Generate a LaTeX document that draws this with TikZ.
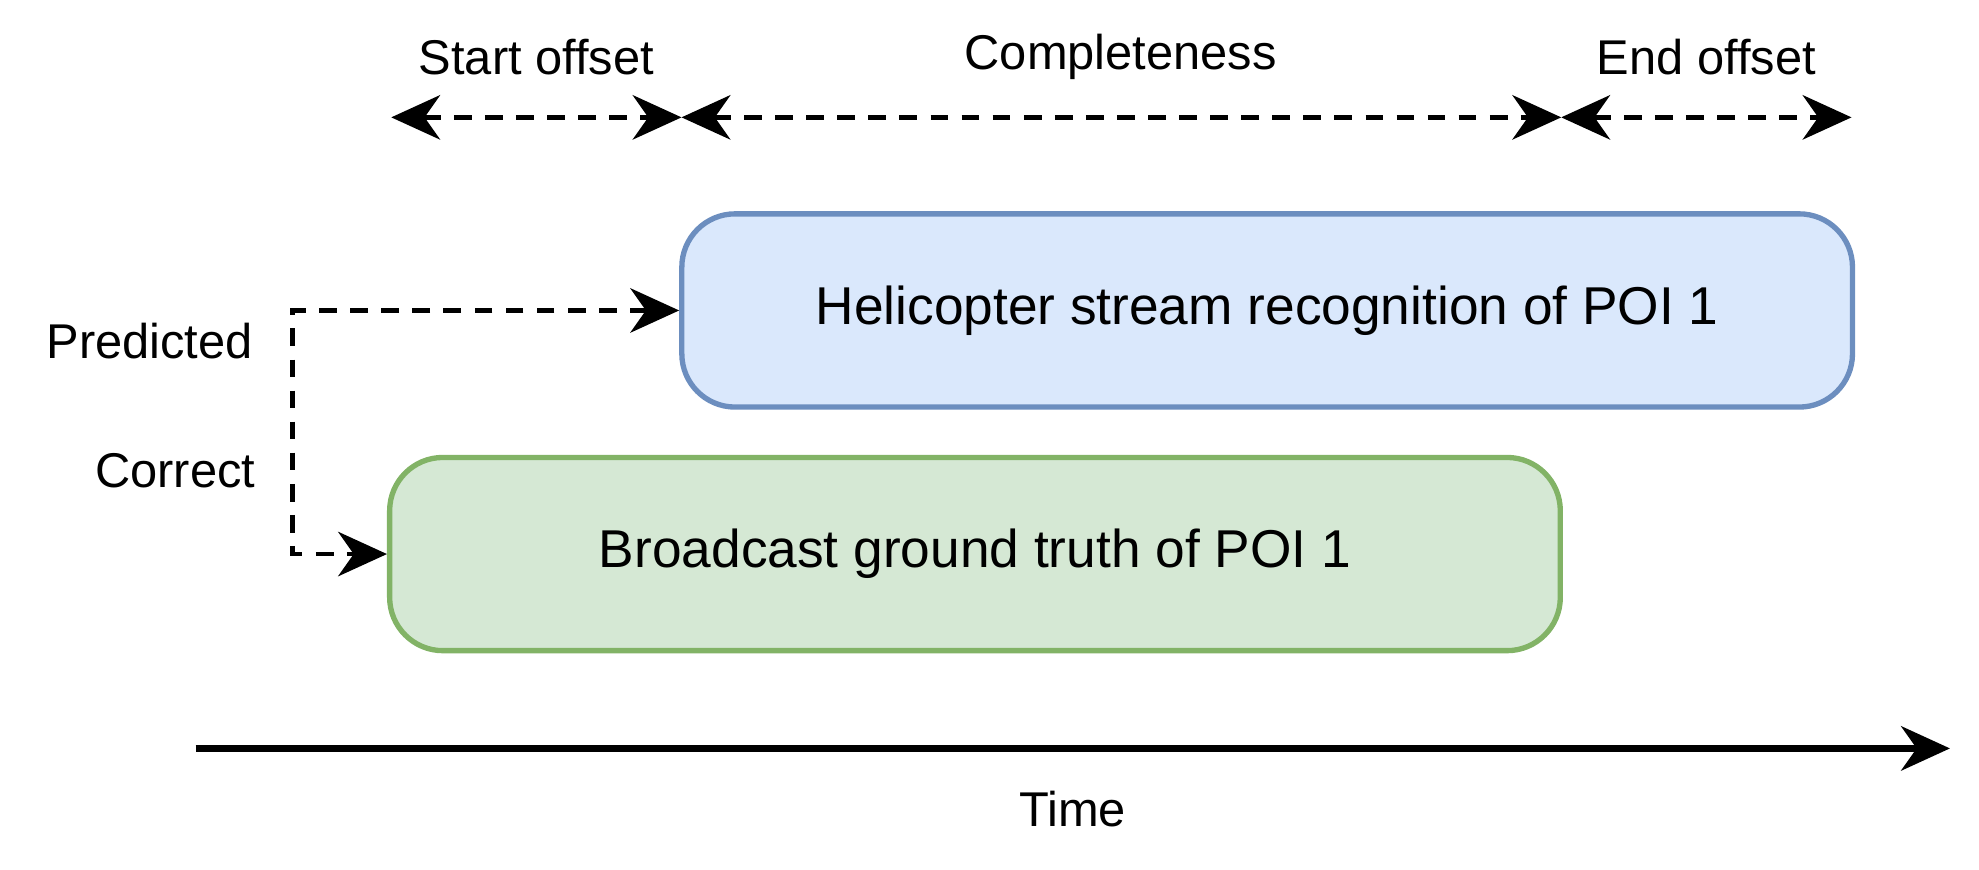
\documentclass[tikz,border=0pt]{standalone}
\usepackage{fontspec}
\setmainfont{Liberation Sans}
\usetikzlibrary{arrows.meta,positioning}
\definecolor{boxblue}{HTML}{DAE8FC}
\definecolor{lineblue}{HTML}{6C8EBF}
\definecolor{boxgreen}{HTML}{D5E8D4}
\definecolor{linegreen}{HTML}{82B366}
\tikzset{
    %Define standard arrow tip
    >={Stealth[length=11pt,width=10pt,inset=3.5pt]},
    %Define style for boxes
    box/.style={
           rectangle,
           rounded corners=12pt,
           line width=1.2pt,
           minimum width=9.27cm,
           minimum height=1.53cm,
           font=\fontsize{12}{14}\selectfont},
    % Define arrow styles
    span/.style={
           <->,
           dashed,
           line width=1.1pt,
           dash pattern=on 4pt off 3pt},
    label/.style={
           font=\fontsize{11}{13}\selectfont,
           inner sep=0pt}
}
\begin{document}
\begin{tikzpicture}[x=0.01cm,y=-0.01cm]
 \useasboundingbox (0,0) rectangle (1568,689);
 %nodes
    \node[box, fill=boxblue, draw=lineblue] (heli) at (1004,246) {Helicopter stream recognition of POI 1};
    \node[box, fill=boxgreen, draw=linegreen] (broad) at (772.5,439) {Broadcast ground truth of POI 1};
    \coordinate (s0) at (310,93);
    \coordinate (s1) at (540,93);
    \coordinate (s2) at (1237,93);
    \coordinate (s3) at (1467,93);
    \node[label] (start) at (425,45) {Start offset};
    \node[label] (compl) at (888,45) {Completeness};
    \node[label] (end) at (1352,45) {End offset};
    \node[label, anchor=east] (pred) at (201,270) {Predicted};
    \node[label, anchor=east] (corr) at (203,373) {Correct};
    \coordinate (bend) at (232,340);
    \coordinate (t0) at (155,593);
    \coordinate (t1) at (1545,593);
    \node[label] (time) at (850,641) {Time};
 %edges
    \draw[span] (s0) -- (s1);
    \draw[span] (s1) -- (s2);
    \draw[span] (s2) -- (s3);
    \draw[span] (heli.west) -| (bend) |- (broad.west);
    \draw[->, line width=1.4pt] (t0) -- (t1);
\end{tikzpicture}
\end{document}
